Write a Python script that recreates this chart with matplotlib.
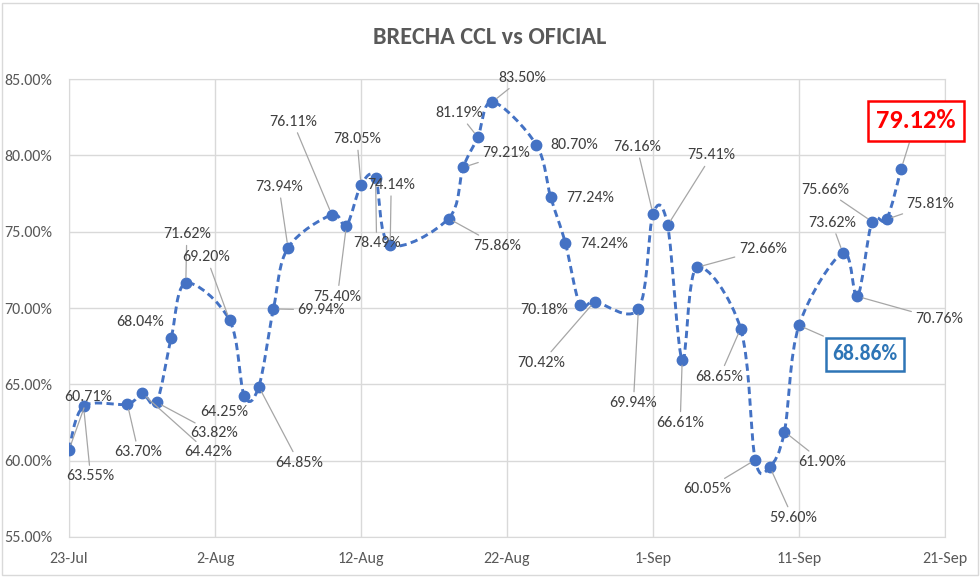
import numpy as np
import pandas as pd
import matplotlib
matplotlib.use('Agg')
import matplotlib.pyplot as plt
import matplotlib.dates as mdates
from matplotlib.path import Path
from matplotlib.patches import PathPatch, Rectangle
from matplotlib.ticker import FuncFormatter, MultipleLocator

plt.rcParams['font.family'] = ['Carlito', 'Liberation Sans Narrow', 'Archivo Narrow', 'DejaVu Sans']

# datos: brecha CCL vs oficial (%)
fechas = ['2020-07-23', '2020-07-24', '2020-07-27', '2020-07-28', '2020-07-29', '2020-07-30',
          '2020-07-31', '2020-08-03', '2020-08-04', '2020-08-05', '2020-08-06', '2020-08-07',
          '2020-08-10', '2020-08-11', '2020-08-12', '2020-08-13', '2020-08-14', '2020-08-18',
          '2020-08-19', '2020-08-20', '2020-08-21', '2020-08-24', '2020-08-25', '2020-08-26',
          '2020-08-27', '2020-08-28', '2020-08-31', '2020-09-01', '2020-09-02', '2020-09-03',
          '2020-09-04', '2020-09-07', '2020-09-08', '2020-09-09', '2020-09-10', '2020-09-11',
          '2020-09-14', '2020-09-15', '2020-09-16', '2020-09-17', '2020-09-18']
brecha = [60.71, 63.55, 63.70, 64.42, 63.82, 68.04, 71.62, 69.20, 64.25, 64.85, 69.94,
          73.94, 76.11, 75.40, 78.05, 78.49, 74.14, 75.86, 79.21, 81.19, 83.50, 80.70,
          77.24, 74.24, 70.18, 70.42, 69.94, 76.16, 75.41, 66.61, 72.66, 68.65, 60.05,
          59.60, 61.90, 68.86, 73.62, 70.76, 75.66, 75.81, 79.12]

# posicion de etiquetas (pixeles respecto al punto) y si llevan linea guia
label_off = [(19, 53), (7, -70), (11, -48), (66, -59), (58, -31), (-31, 16), (1, 49),
             (-23, 63), (-20, -16), (40, -76), (48, -1), (-9, 61), (-39, 93), (-9, -71),
             (-4, 46), (1, -65), (1, 60), (49, -27), (43, 14), (-19, 24), (30, 24),
             (38, 0), (39, -1), (39, -1), (-36, -5), (-53, -61), (-5, -94), (-16, 67),
             (44, 70), (-2, -63), (66, 18), (-21, -48), (-48, -29), (23, -51), (38, -30),
             (66, -29), (-11, 30), (82, -23), (-47, 32), (44, 15), (15, 48)]
sin_linea = [5, 8, 21, 22, 23, 24]
destacados = {35: '#2E75B6', 40: '#FF0000'}

azul = '#4472C4'
gris = '#595959'

x = mdates.date2num(pd.to_datetime(fechas))
y = np.array(brecha)

fig = plt.figure(figsize=(9.8, 5.81), dpi=100)
ax = fig.add_axes([69 / 980, 1 - 537 / 581, 876 / 980, 458 / 581])

# linea suavizada (bezier tipo Catmull-Rom, como el "suavizado" de Excel)
pts = np.column_stack([x, y])
verts = [pts[0]]
codes = [Path.MOVETO]
n = len(pts)
for i in range(n - 1):
    p0 = pts[max(i - 1, 0)]
    p1 = pts[i]
    p2 = pts[i + 1]
    p3 = pts[min(i + 2, n - 1)]
    c1 = p1 + (p2 - p0) / 6.0
    c2 = p2 - (p3 - p1) / 6.0
    verts += [c1, c2, p2]
    codes += [Path.CURVE4] * 3
curva = PathPatch(Path(verts, codes), facecolor='none', edgecolor=azul, lw=2.1,
                  linestyle=(0, (2.5, 1.5)), zorder=3)
ax.add_patch(curva)
ax.plot(x, y, 'o', color=azul, markersize=7.5, zorder=4)

for i, (xi, yi) in enumerate(zip(x, y)):
    txt = f'{yi:.2f}%'
    kw = dict(xy=(xi, yi), xytext=label_off[i], textcoords='offset pixels',
              ha='center', va='center', zorder=5)
    if i not in sin_linea:
        kw['arrowprops'] = dict(arrowstyle='-', color='#A6A6A6', lw=0.9,
                                shrinkA=1, shrinkB=4)
    if i in destacados:
        c = destacados[i]
        size = 19 if i == 40 else 15.5
        ax.annotate(txt, fontsize=size, fontweight='bold', color=c,
                    bbox=dict(boxstyle='square,pad=0.32', fc='white', ec=c, lw=1.8), **kw)
    else:
        ax.annotate(txt, fontsize=11.5, color='#404040', **kw)

x0 = mdates.date2num(pd.Timestamp('2020-07-23'))
ax.set_xlim(x0, x0 + 60)
ax.set_xticks([x0 + 10 * k for k in range(7)])
ax.xaxis.set_major_formatter(FuncFormatter(
    lambda v, p: f"{mdates.num2date(v).day}-{mdates.num2date(v).strftime('%b')}"))
ax.set_ylim(55, 85)
ax.yaxis.set_major_locator(MultipleLocator(5))
ax.yaxis.set_major_formatter(FuncFormatter(lambda v, p: f'{v:.2f}%'))
ax.tick_params(length=0, labelsize=11.5, labelcolor=gris)
ax.tick_params(axis='y', pad=12)
ax.tick_params(axis='x', pad=11)
ax.grid(True, color='#D9D9D9', lw=1)
ax.set_axisbelow(True)
for s in ax.spines.values():
    s.set_color('#D9D9D9')

fig.text(0.5, 1 - 38 / 581, 'BRECHA CCL vs OFICIAL', ha='center', va='center',
         fontsize=17.5, fontweight='bold', color=gris)
fig.patches.append(Rectangle((0.002, 0.01), 0.996, 0.985, transform=fig.transFigure,
                             fill=False, ec='#D9D9D9', lw=1))

fig.savefig('out.png', dpi=100)
